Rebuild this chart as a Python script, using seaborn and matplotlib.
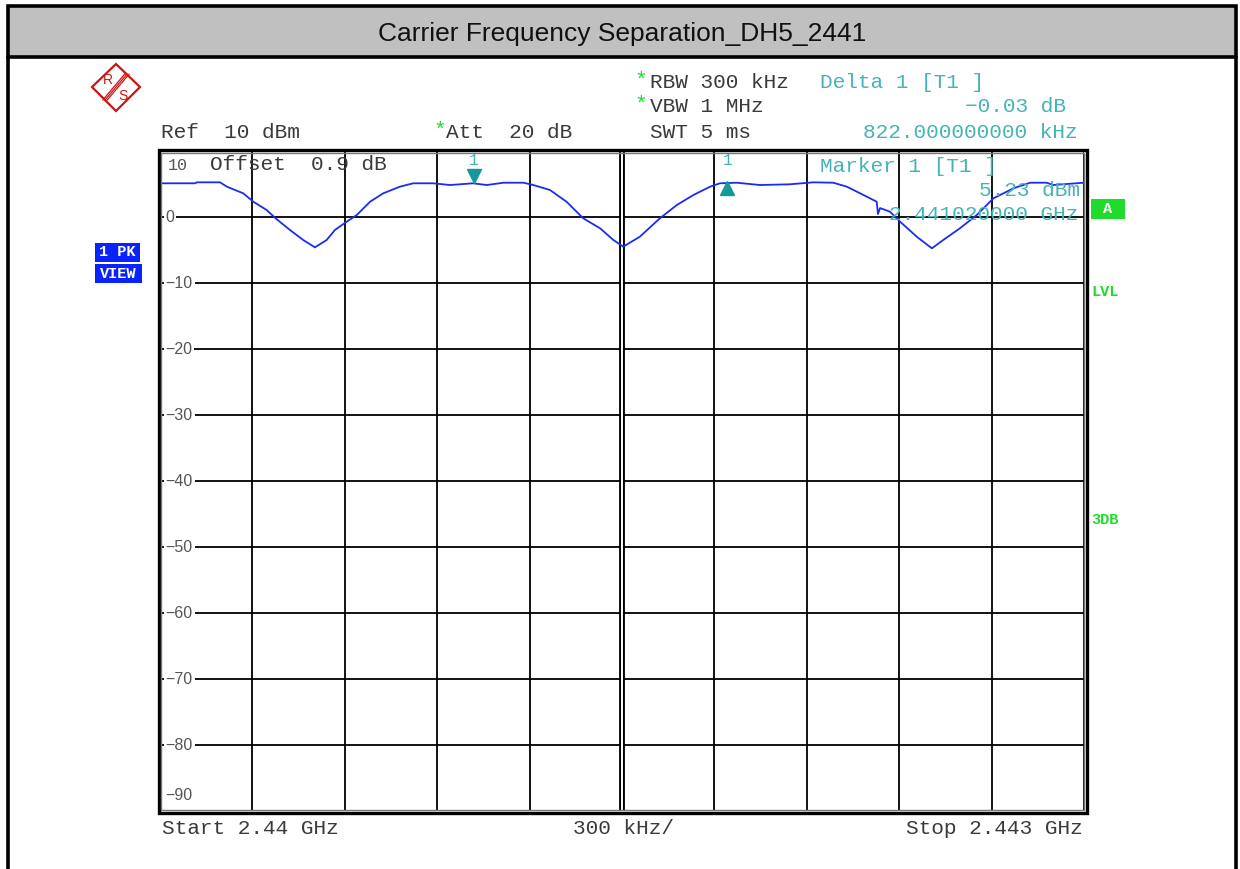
import numpy as np
import matplotlib
matplotlib.use("Agg")
import matplotlib.pyplot as plt
import matplotlib.transforms as mtransforms
from matplotlib.patches import Rectangle, Polygon
import seaborn as sns

# trace
freq_mhz = [2440.000, 2440.114, 2440.120, 2440.195, 2440.217, 2440.270, 2440.303, 2440.346,
            2440.379, 2440.422, 2440.465, 2440.503, 2440.541, 2440.568, 2440.606, 2440.639,
            2440.682, 2440.725, 2440.779, 2440.822, 2440.887, 2440.942, 2441.016, 2441.061,
            2441.115, 2441.180, 2441.212, 2441.266, 2441.320, 2441.374, 2441.429, 2441.472,
            2441.504, 2441.558, 2441.623, 2441.678, 2441.732, 2441.786, 2441.818, 2441.873,
            2441.948, 2442.045, 2442.121, 2442.186, 2442.230, 2442.284, 2442.327, 2442.331,
            2442.338, 2442.370, 2442.403, 2442.457, 2442.506, 2442.543, 2442.597, 2442.652,
            2442.706, 2442.771, 2442.825, 2442.879, 2442.900, 2443.000]
level_dbm = [5.15, 5.15, 5.30, 5.30, 4.64, 3.64, 2.36, 1.11,
             -0.30, -1.92, -3.44, -4.55, -3.44, -1.92, -0.67, 0.35,
             2.36, 3.64, 4.64, 5.15, 5.15, 4.89, 5.15, 4.89,
             5.24, 5.24, 4.89, 4.14, 2.36, -0.15, -1.67, -3.44,
             -4.45, -2.94, -0.15, 1.86, 3.38, 4.64, 5.15, 5.24,
             4.89, 5.00, 5.30, 5.24, 4.64, 3.38, 2.36, 0.50,
             1.40, 0.85, -0.67, -2.94, -4.70, -3.44, -1.67, 0.35,
             2.88, 4.39, 5.24, 5.24, 4.89, 5.24]

start_mhz = 2440.0
stop_mhz = 2443.0
span_div = 0.3
ref_level = 10
y_bottom = -90
y_ticks = list(range(10, -100, -10))

marker1_freq = 2441.020
marker1_level = 5.23
delta_freq_khz = 822.0
delta_level = -0.03

title = "Carrier Frequency Separation_DH5_2441"

sns.set_style("white")
plt.rcParams['font.family'] = ['Liberation Sans', 'DejaVu Sans']
MONO = 'Liberation Mono'
DARK = '#3a3a3a'
TEAL = '#45b4b4'
TRI = '#14999a'
GREEN = '#1fdc2c'
BLUE = '#0a22ff'

W, H = 1240, 869
fig = plt.figure(figsize=(W / 100, H / 100), dpi=100)


def box(x0, y0, x1, y1):
    return [x0 / W, 1 - y1 / H, (x1 - x0) / W, (y1 - y0) / H]


# trace area
ax = fig.add_axes(box(160, 151.3, 1084, 811.3))
ax.set_axisbelow(True)
sns.lineplot(x=freq_mhz, y=level_dbm, ax=ax, color='#1a2cf2', lw=1.3, zorder=5)
ax.set_xlim(start_mhz, stop_mhz)
ax.set_ylim(y_bottom, ref_level)
ax.set_xticks(np.arange(start_mhz, stop_mhz + 0.01, span_div))
ax.set_yticks(y_ticks)
ax.tick_params(length=0, labelbottom=False, labelleft=False)
ax.set_xlabel('')
ax.set_ylabel('')
ax.grid(True, color='black', lw=1.3)
for s in ax.spines.values():
    s.set_visible(False)
center = (start_mhz + stop_mhz) / 2
ax.axvline(center, color='black', lw=4.2, zorder=1)
ax.axvline(center, color='white', lw=1.4, zorder=1.1)

# level labels inside the grid
ylab = mtransforms.blended_transform_factory(ax.transAxes, ax.transData)
for v in y_ticks:
    txt = str(v).replace('-', '\u2212')
    if v == ref_level:
        ax.text(0.009, v, txt, transform=mtransforms.offset_copy(ylab, fig=fig, y=-7, units='dots'),
                ha='left', va='top', fontsize=12, color='#555555', family=MONO, zorder=6)
    elif v == y_bottom:
        ax.text(0.006, v, txt, transform=mtransforms.offset_copy(ylab, fig=fig, y=8, units='dots'),
                ha='left', va='bottom', fontsize=11.5, color='#555555', zorder=6)
    else:
        ax.text(0.006, v, txt, transform=ylab, ha='left', va='center', fontsize=11.5,
                color='#555555', zorder=6,
                bbox=dict(boxstyle='square,pad=0.12', fc='white', ec='none'))

# markers
delta_freq = marker1_freq + delta_freq_khz / 1000
delta_lvl = marker1_level + delta_level
up6 = mtransforms.offset_copy(ax.transData, fig=fig, y=7, units='dots')
dn6 = mtransforms.offset_copy(ax.transData, fig=fig, y=-5, units='dots')
lab = mtransforms.offset_copy(ax.transData, fig=fig, y=22, units='dots')
ax.plot([marker1_freq], [marker1_level], marker='v', ms=10, color=TRI, transform=up6, zorder=7)
ax.plot([delta_freq], [delta_lvl], marker='^', ms=10, color=TRI, transform=dn6, zorder=7)
ax.text(marker1_freq, marker1_level, '1', transform=lab, ha='center', va='center',
        family=MONO, fontsize=12, color=TEAL, zorder=7)
ax.text(delta_freq, delta_lvl, '1', transform=lab, ha='center', va='center',
        family=MONO, fontsize=12, color=TEAL, zorder=7)

# overlay in pixel coordinates for the screen furniture
ov = fig.add_axes([0, 0, 1, 1])
ov.set_xlim(0, W)
ov.set_ylim(H, 0)
ov.axis('off')
ov.patch.set_alpha(0)

# title band and outer frame
ov.add_patch(Rectangle((8, 6), 1228, 51, fc='#c0c0c0', ec='black', lw=2.6))
ov.plot([8, 8], [57, H], color='black', lw=2.6)
ov.plot([1236, 1236], [57, H], color='black', lw=2.6)
ov.text(622, 34, title, ha='center', va='center', fontsize=19, color='#111111')

# grid frame (double line)
ov.add_patch(Rectangle((158.5, 150), 928, 662.5, fill=False, ec='black', lw=2.4))
ov.add_patch(Rectangle((161.2, 152.8), 922.4, 656.8, fill=False, ec='#777777', lw=1.0))

# R&S logo
ov.add_patch(Polygon([(116, 64), (140, 87), (116, 111), (92, 87)], closed=True,
                     fill=False, ec='#cc1515', lw=1.6))
for d in (-2.2, 0, 2.2):
    ov.plot([127 + d, 105 + d], [74, 100], color='#cc1515', lw=0.9)
ov.text(108, 80, 'R', ha='center', va='center', fontsize=10, color='#cc1515')
ov.text(123, 96, 'S', ha='center', va='center', fontsize=10, color='#cc1515')

# header settings
hs = 15.2
ov.text(161, 133, 'Ref  10 dBm', family=MONO, fontsize=hs, color=DARK, va='center')
ov.text(433, 130, '*', family=MONO, fontsize=hs, color=GREEN, va='center')
ov.text(446, 133, 'Att  20 dB', family=MONO, fontsize=hs, color=DARK, va='center')
ov.text(634, 80, '*', family=MONO, fontsize=hs, color=GREEN, va='center')
ov.text(650, 83, 'RBW 300 kHz', family=MONO, fontsize=hs, color=DARK, va='center')
ov.text(634, 104, '*', family=MONO, fontsize=hs, color=GREEN, va='center')
ov.text(650, 107, 'VBW 1 MHz', family=MONO, fontsize=hs, color=DARK, va='center')
ov.text(650, 132, 'SWT 5 ms', family=MONO, fontsize=hs, color=DARK, va='center')

ov.text(820, 83, 'Delta 1 [T1 ]', family=MONO, fontsize=hs, color=TEAL, va='center')
ov.text(1066, 107, f'{delta_level:.2f} dB'.replace('-', '\u2212'), family=MONO, fontsize=hs,
        color=TEAL, va='center', ha='right')
ov.text(1078, 132, f'{delta_freq_khz:.9f} kHz', family=MONO, fontsize=hs, color=TEAL,
        va='center', ha='right')
ov.text(820, 166, 'Marker 1 [T1 ]', family=MONO, fontsize=hs, color=TEAL, va='center')
ov.text(1080, 190, f'{marker1_level:.2f} dBm', family=MONO, fontsize=hs, color=TEAL,
        va='center', ha='right')
ov.text(1078, 215, f'{marker1_freq / 1000:.9f} GHz', family=MONO, fontsize=hs, color=TEAL,
        va='center', ha='right')
ov.text(210, 165, 'Offset  0.9 dB', family=MONO, fontsize=hs, color=DARK, va='center')

# side labels
ov.add_patch(Rectangle((95, 243), 45, 19, fc=BLUE, ec='none'))
ov.add_patch(Rectangle((95, 264), 47, 19, fc=BLUE, ec='none'))
ov.text(117.5, 252.5, '1 PK', family=MONO, weight='bold', fontsize=11, color='white',
        ha='center', va='center')
ov.text(118.5, 273.5, 'VIEW', family=MONO, weight='bold', fontsize=11, color='white',
        ha='center', va='center')
ov.add_patch(Rectangle((1091, 199), 34, 20, fc=GREEN, ec='none'))
ov.text(1108, 209, 'A', family=MONO, weight='bold', fontsize=11, color='white',
        ha='center', va='center')
ov.text(1091, 292, 'LVL', family=MONO, weight='bold', fontsize=11, color=GREEN, va='center')
ov.text(1091, 520, '3DB', family=MONO, weight='bold', fontsize=11, color=GREEN, va='center')

# frequency axis annotation
ov.text(162, 828, f'Start {start_mhz / 1000:g} GHz', family=MONO, fontsize=hs, color=DARK,
        va='center')
ov.text(573, 828, f'{span_div * 1000:.0f} kHz/', family=MONO, fontsize=hs, color=DARK,
        va='center')
ov.text(1083, 828, f'Stop {stop_mhz / 1000:g} GHz', family=MONO, fontsize=hs, color=DARK,
        va='center', ha='right')

fig.savefig('out.png', dpi=100)
